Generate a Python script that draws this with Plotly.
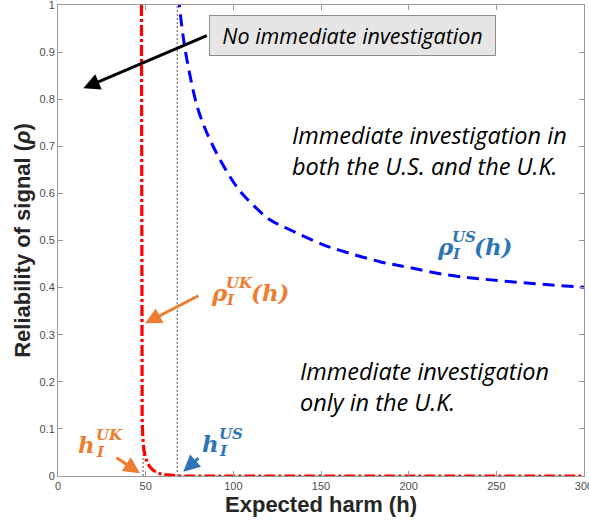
import plotly.graph_objects as go

# ---- data ----
h_us = [68.6, 69.2, 71.5, 74.3, 80.0, 88.6, 101.9, 110.0, 120.9, 130.4, 150.0, 160.0,
        183.6, 200.0, 221.7, 240.0, 259.7, 280.0, 300.0]
rho_us = [1.02, 1.00, 0.93, 0.869, 0.777, 0.699, 0.614, 0.580, 0.544, 0.526, 0.493, 0.480,
          0.455, 0.443, 0.427, 0.419, 0.412, 0.406, 0.401]

h_uk = [47.6, 47.6, 47.7, 47.8, 48.0, 48.4, 49.0, 50.0, 51.0, 52.3, 54.0, 56.0, 58.0,
        61.0, 65.0, 70.0, 300.0]
rho_uk = [1.0, 0.6, 0.3, 0.2, 0.12, 0.08, 0.055, 0.038, 0.028, 0.020, 0.013, 0.008,
          0.005, 0.003, 0.001, 0.0, 0.0]

h_I_uk = 48.5
h_I_uk_top = 0.06
h_I_us = 68.0

x_ticks = [0, 50, 100, 150, 200, 250, 300]
y_ticks = [0, 0.1, 0.2, 0.3, 0.4, 0.5, 0.6, 0.7, 0.8, 0.9, 1]
y_ticklabels = ["0", "0.1", "0.2", "0.3", "0.4", "0.5", "0.6", "0.7", "0.8", "0.9", "1"]

W, H = 589, 529
ML, MR, MT, MB = 58, 5, 5, 53
PW, PH = W - ML - MR, H - MT - MB


def X(px):
    return (px - ML) / PW


def Y(py):
    return (H - MB - py) / PH


fig = go.Figure()
fig.add_trace(go.Scatter(x=[h_I_us, h_I_us], y=[0, 1], mode="lines",
                         line=dict(color="#555555", width=1, dash="2px,2px"), hoverinfo="skip"))
fig.add_trace(go.Scatter(x=[h_I_uk, h_I_uk], y=[0, h_I_uk_top], mode="lines",
                         line=dict(color="#555555", width=1, dash="2px,2px"), hoverinfo="skip"))
fig.add_trace(go.Scatter(x=h_us, y=rho_us, mode="lines", line_shape="spline",
                         line=dict(color="#0000ff", width=3, dash="12px,7px")))
fig.add_trace(go.Scatter(x=h_uk, y=rho_uk, mode="lines",
                         line=dict(color="#ff0000", width=3.2, dash="11px,3px,3px,3px")))

ORANGE = "#ed7d31"
BLUE = "#2e75b6"
TXT = "Open Sans"
MATH = "DejaVu Serif"

ann = []


def text(px, py, s, size=21, color="black", family=TXT, xanchor="left", yanchor="middle",
         italic=True, bold=False):
    ann.append(dict(xref="paper", yref="paper", x=X(px), y=Y(py), text=s, showarrow=False,
                    xanchor=xanchor, yanchor=yanchor, align="left", borderpad=0,
                    font=dict(size=size, color=color, family=family,
                              style="italic" if italic else "normal",
                              weight="bold" if bold else "normal")))


def math_label(px, py, base, sup, sub, tail, color, bsize=23, ssize=15, bw=15, sw=22):
    # base glyph, stacked super/subscript, trailing text
    text(px, py, base, size=bsize, color=color, family=MATH, bold=True)
    text(px + bw, py - 9, sup, size=ssize, color=color, family=MATH, bold=True)
    text(px + bw, py + 8, sub, size=ssize, color=color, family=MATH, bold=True)
    if tail:
        text(px + bw + sw, py, tail, size=bsize, color=color, family=MATH, bold=True)


def arrow(hx, hy, tx, ty, color, width=3):
    ann.append(dict(xref="paper", yref="paper", x=X(hx), y=Y(hy), ax=tx - hx, ay=ty - hy,
                    text="", showarrow=True, arrowhead=2, arrowsize=1.1, arrowwidth=width,
                    arrowcolor=color, standoff=0, startstandoff=0))


# box
ann.append(dict(xref="paper", yref="paper", x=X(352), y=Y(35.5), text="No immediate investigation",
                showarrow=False, xanchor="center", yanchor="middle", width=283, height=37,
                bgcolor="#e6e6e6", bordercolor="#8c8c8c", borderwidth=1, borderpad=1,
                font=dict(size=21.5, color="black", family=TXT, style="italic")))
arrow(83.3, 88.3, 208.3, 35, "black")

text(291, 150, "Immediate investigation in<br>both the U.S. and the U.K.", size=23.5)
text(299, 386, "Immediate investigation<br>only in the U.K.", size=23.5)

math_label(436, 246, "ρ", "US", "I", "(h)", BLUE)
math_label(210, 292, "ρ", "UK", "I", "(h)", ORANGE, sw=25)
math_label(77, 444, "h", "UK", "I", "", ORANGE, bw=18)
math_label(201, 443, "h", "US", "I", "", BLUE, bw=17)

arrow(145, 323.3, 200, 295, ORANGE)
arrow(140, 473.3, 115, 456.7, ORANGE)
arrow(183.3, 471.7, 200, 456.7, BLUE)

axis_common = dict(showline=True, linecolor="#999999", linewidth=1, mirror="ticks",
                   ticks="inside", ticklen=5, tickcolor="#999999", showgrid=False,
                   zeroline=False, automargin=False, ticklabeloverflow="allow",
                   tickfont=dict(family="Liberation Sans", size=11, color="#4d4d4d"))

fig.update_layout(
    width=W, height=H, margin=dict(l=ML, r=MR, t=MT, b=MB),
    paper_bgcolor="white", plot_bgcolor="white", showlegend=False,
    annotations=ann,
    xaxis=dict(range=[0, 300], tickvals=x_ticks, ticktext=[str(v) for v in x_ticks],
               title=dict(text="<b>Expected harm (h)</b>", standoff=5,
                          font=dict(family="Liberation Sans", size=22, color="#262626")),
               **axis_common),
    yaxis=dict(range=[0, 1], tickvals=y_ticks, ticktext=y_ticklabels,
               title=dict(text="<b>Reliability of signal (<i>ρ</i>)</b>", standoff=2,
                          font=dict(family="Liberation Sans", size=22, color="#262626")),
               **axis_common),
)

fig.write_html("out.html", config={"displayModeBar": False},
               post_script="document.body.style.margin='0px';")
